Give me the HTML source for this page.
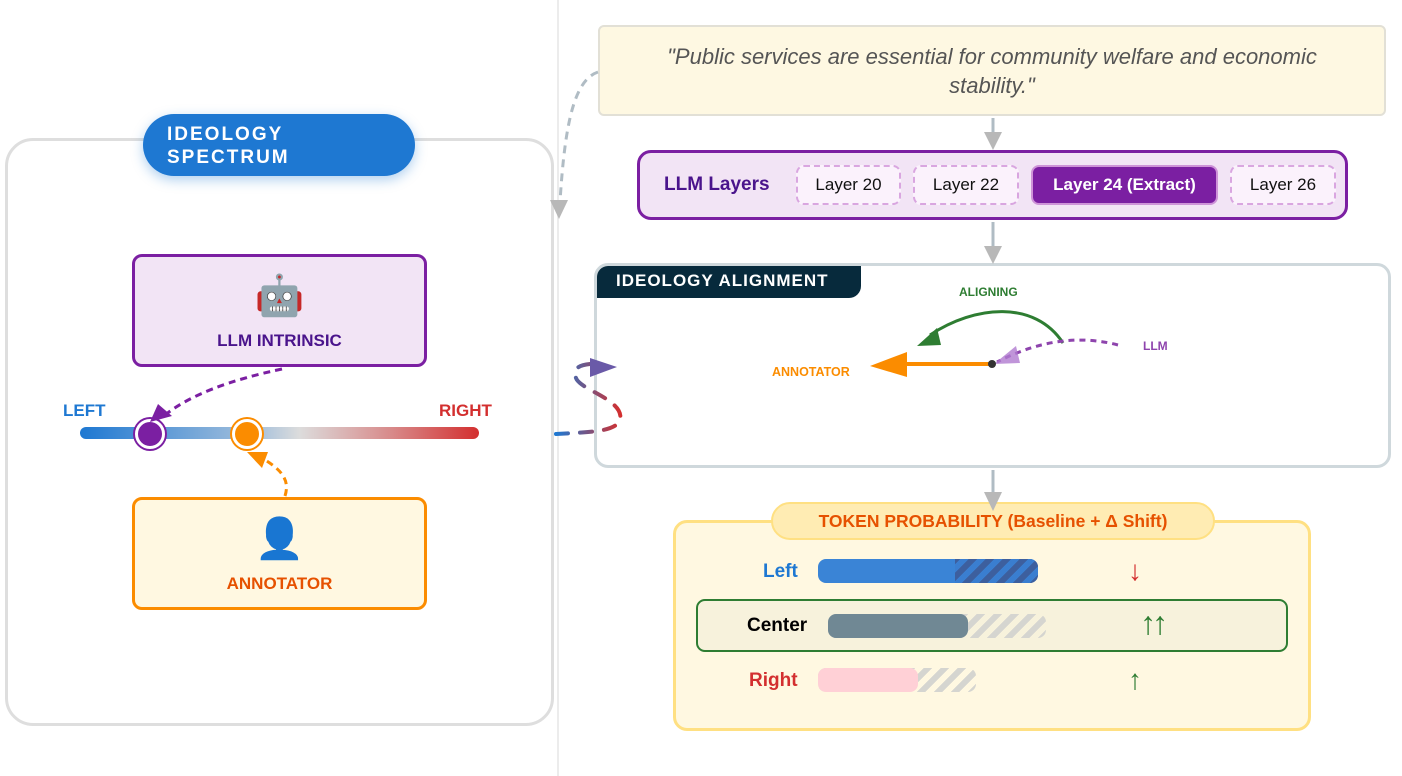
<!DOCTYPE html>
<html><head><meta charset="utf-8"><style>
*{box-sizing:border-box;margin:0;padding:0}
body{width:1402px;height:776px;position:relative;background:#fff;font-family:"Liberation Sans",sans-serif;overflow:hidden}
.a{position:absolute}
.c{display:flex;align-items:center;justify-content:center}
.chip{position:absolute;top:165px;height:40px;border:2px dashed #d9a6e0;border-radius:8px;background:#fbf2fc;font-size:17px;color:#111;display:flex;align-items:center;justify-content:center}
.lbl{position:absolute;font-weight:bold;font-size:19px}
.str{background:repeating-linear-gradient(-45deg,#d5d5d0 0 6px,transparent 6px 12px)}
</style></head><body>
<div class="a" style="left:557px;top:0;width:2px;height:776px;background:#ececec"></div>

<!-- left panel -->
<div class="a" style="left:5px;top:138px;width:549px;height:588px;border:3px solid #dedede;border-radius:28px"></div>
<div class="a" style="left:143px;top:114px;width:272px;height:62px;background:#1e78d2;border-radius:31px;box-shadow:0 4px 12px rgba(30,120,210,.35);color:#fff;font-weight:bold;font-size:19px;letter-spacing:2px;line-height:23px;padding:9px 0 0 24px">IDEOLOGY<br>SPECTRUM</div>

<div class="a" style="left:132px;top:254px;width:295px;height:113px;background:#f2e4f5;border:3px solid #7b1fa2;border-radius:10px"></div>
<div class="a c" style="left:132px;top:272px;width:295px;height:46px;font-size:40px;font-family:'Noto Color Emoji',sans-serif">🤖</div>
<div class="a c" style="left:132px;top:330px;width:295px;height:22px;font-weight:bold;font-size:17px;color:#4a148c">LLM INTRINSIC</div>

<div class="a" style="left:132px;top:497px;width:295px;height:113px;background:#fff8e1;border:3px solid #fb8c00;border-radius:10px"></div>
<div class="a c" style="left:132px;top:515px;width:295px;height:46px;font-size:40px;font-family:'Noto Color Emoji',sans-serif">👤</div>
<div class="a c" style="left:132px;top:573px;width:295px;height:22px;font-weight:bold;font-size:17px;color:#e65100">ANNOTATOR</div>

<div class="a" style="left:63px;top:401px;font-weight:bold;font-size:17px;color:#1e78d2">LEFT</div>
<div class="a" style="left:439px;top:401px;font-weight:bold;font-size:17px;color:#d32f2f">RIGHT</div>
<div class="a" style="left:80px;top:427px;width:399px;height:12px;border-radius:6px;background:linear-gradient(90deg,#1e78d2,#a8c2dc 45%,#dcdcdc 55%,#d88a8a 78%,#d32f2f)"></div>
<div class="a" style="left:135px;top:419px;width:30px;height:30px;border-radius:50%;background:#7b1fa2;border:3px solid #fff;box-shadow:0 0 0 2px #7b1fa2"></div>
<div class="a" style="left:232px;top:419px;width:30px;height:30px;border-radius:50%;background:#fb8c00;border:3px solid #fff;box-shadow:0 0 0 2px #fb8c00"></div>

<!-- right -->
<div class="a c" style="left:598px;top:25px;width:788px;height:91px;background:#fef8e2;border:2px solid #e2e0d6;border-radius:6px;font-style:italic;font-size:22px;color:#555;text-align:center;line-height:29px;padding:0 30px">"Public services are essential for community welfare and economic stability."</div>

<div class="a" style="left:637px;top:150px;width:711px;height:70px;background:#f2e4f5;border:3px solid #7b1fa2;border-radius:14px"></div>
<div class="a" style="left:664px;top:174px;font-weight:bold;font-size:19px;color:#4a148c">LLM Layers</div>
<div class="chip" style="left:796px;width:105px">Layer 20</div>
<div class="chip" style="left:913px;width:106px">Layer 22</div>
<div class="chip" style="left:1031px;width:187px;border:2px solid #ce93d8;background:#7b1fa2;color:#fff;font-weight:bold">Layer 24 (Extract)</div>
<div class="chip" style="left:1230px;width:106px">Layer 26</div>

<div class="a" style="left:594px;top:263px;width:797px;height:205px;border:3px solid #cfd8dc;border-radius:14px"></div>
<div class="a" style="left:597px;top:266px;width:264px;height:32px;background:#072a3c;border-radius:11px 0 12px 0;color:#fff;font-weight:bold;font-size:17px;letter-spacing:1px;padding:5px 0 0 19px">IDEOLOGY ALIGNMENT</div>
<div class="a" style="left:959px;top:285px;font-weight:bold;font-size:12px;color:#2e7d32">ALIGNING</div>
<div class="a" style="left:772px;top:365px;font-weight:bold;font-size:12.5px;color:#fb8c00">ANNOTATOR</div>
<div class="a" style="left:1143px;top:339px;font-weight:bold;font-size:12px;color:#8e44ad">LLM</div>

<div class="a" style="left:673px;top:520px;width:638px;height:211px;background:#fff8e1;border:3px solid #ffe082;border-radius:14px"></div>
<div class="a c" style="left:771px;top:502px;width:444px;height:38px;background:#ffecb3;border:2px solid #ffe082;border-radius:19px;color:#e65100;font-weight:bold;font-size:17.5px">TOKEN PROBABILITY (Baseline + Δ Shift)</div>

<div class="lbl" style="left:763px;top:561px;color:#1e78d2">Left</div>
<div class="a" style="left:818px;top:559px;width:220px;height:24px;border-radius:8px;background:#3a84d6;overflow:hidden"><div style="position:absolute;left:137px;top:0;width:83px;height:24px;background:repeating-linear-gradient(-45deg,#3d5f9e 0 6px,#3a7ed0 6px 12px)"></div></div>
<div class="a" style="left:1128px;top:555px;font-size:28px;color:#d32f2f">↓</div>

<div class="a" style="left:696px;top:599px;width:592px;height:53px;border:2px solid #2e7d32;border-radius:9px;background:#f7f2dc"></div>
<div class="lbl" style="left:747px;top:615px;color:#000">Center</div>
<div class="a str" style="left:828px;top:614px;width:218px;height:24px;border-radius:8px"></div>
<div class="a" style="left:828px;top:614px;width:140px;height:24px;border-radius:8px;background:#708894"></div>
<div class="a" style="left:1140px;top:605px;font-size:32px;color:#2e7d32;letter-spacing:-4px">↑↑</div>

<div class="lbl" style="left:749px;top:670px;color:#d32f2f">Right</div>
<div class="a str" style="left:818px;top:668px;width:158px;height:24px;border-radius:8px"></div>
<div class="a" style="left:818px;top:668px;width:100px;height:24px;border-radius:8px;background:#ffd0d6"></div>
<div class="a" style="left:1128px;top:664px;font-size:28px;color:#2e7d32">↑</div>

<svg class="a" style="left:0;top:0" width="1402" height="776">
<defs>
<linearGradient id="g" x1="0" x2="1"><stop offset="0" stop-color="#1e78d2"/><stop offset="1" stop-color="#d32f2f"/></linearGradient>
</defs>
<g stroke="#b0bcc4" stroke-width="3"><line x1="993" y1="118" x2="993" y2="134"/><line x1="993" y1="222" x2="993" y2="248"/><line x1="993" y1="470" x2="993" y2="494"/></g>
<g fill="#b8b8b8"><polygon points="984,132 1002,132 993,150"/><polygon points="984,246 1002,246 993,264"/><polygon points="984,492 1002,492 993,511"/></g>
<path d="M598,72 C575,80 565,120 560,202" fill="none" stroke="#b0bcc4" stroke-width="3" stroke-dasharray="8,6"/>
<polygon points="550,200 568,200 559,219" fill="#b8b8b8"/>
<path d="M282,369 C230,380 190,395 165,415" fill="none" stroke="#7b1fa2" stroke-width="3" stroke-dasharray="7,5"/>
<polygon points="150,422 158,404 172,416" fill="#7b1fa2"/>
<path d="M285,496 C290,480 282,470 262,458" fill="none" stroke="#fb8c00" stroke-width="3" stroke-dasharray="7,5"/>
<polygon points="247,452 268,452 262,468" fill="#fb8c00"/>
<path d="M556,434 C590,432 615,432 620,420 C625,400 580,390 576,378 C572,368 580,365 590,364" fill="none" stroke="url(#g)" stroke-width="4" stroke-linecap="round" stroke-dasharray="12,12"/>
<polygon points="590,358 590,377 617,367" fill="#6a5aa8"/>
<line x1="992" y1="364" x2="900" y2="364" stroke="#fb8c00" stroke-width="4"/>
<polygon points="870,366 907,352 907,377" fill="#fb8c00"/>
<path d="M1063,343 C1035,300 975,305 930,335" fill="none" stroke="#2e7d32" stroke-width="3"/>
<polygon points="917,346 937,328 941,345" fill="#2e7d32"/>
<path d="M1118,345 C1080,335 1040,340 997,362" fill="none" stroke="#8e44ad" stroke-width="3" stroke-dasharray="6,5"/>
<polygon points="994,364 1016,346 1020,363" fill="#b07ad0" opacity=".8"/>
<circle cx="992" cy="364" r="4" fill="#333"/>
</svg>
</body></html>
